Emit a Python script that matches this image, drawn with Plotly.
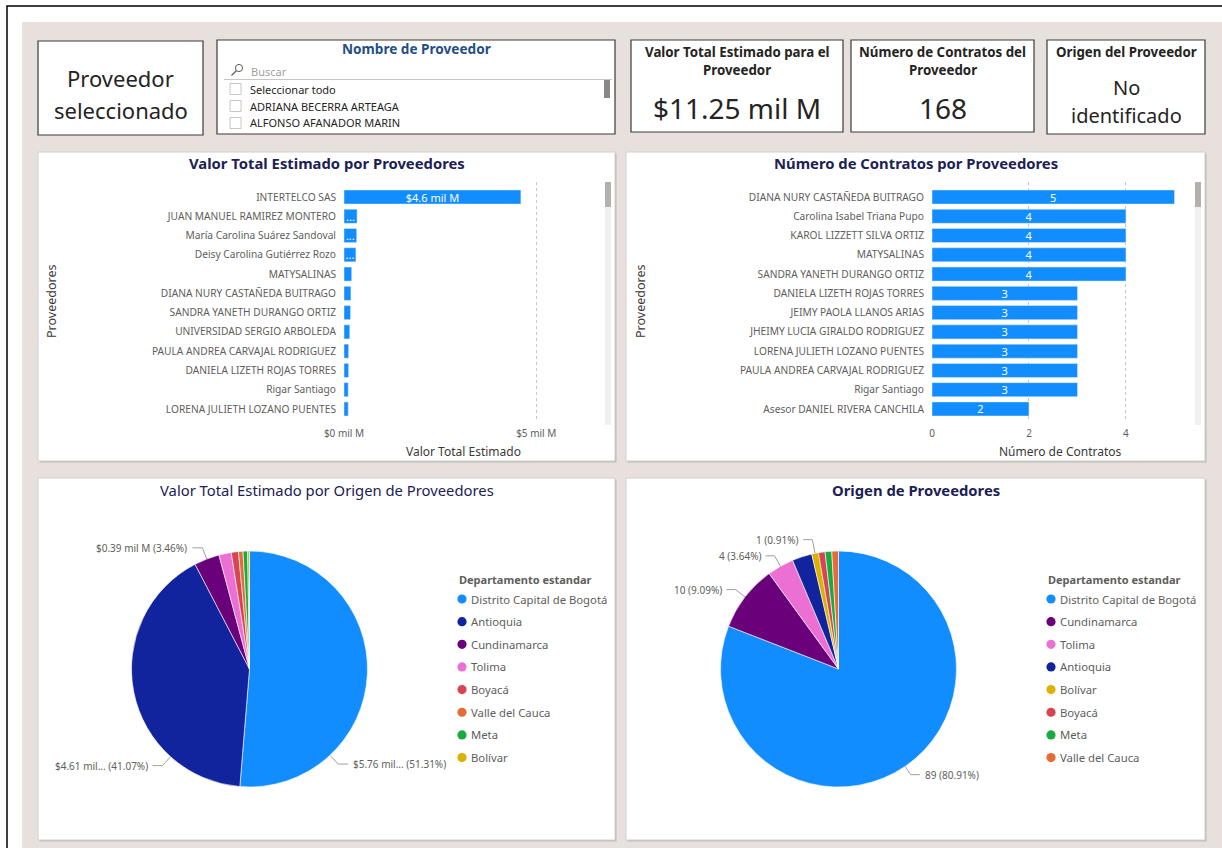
import math
import plotly.graph_objects as go

# ---------------------------------------------------------------- data
prov_valor = [
    "INTERTELCO SAS", "JUAN MANUEL RAMIREZ MONTERO", "María Carolina Suárez Sandoval",
    "Deisy Carolina Gutiérrez Rozo", "MATYSALINAS", "DIANA NURY CASTAÑEDA BUITRAGO",
    "SANDRA YANETH DURANGO ORTIZ", "UNIVERSIDAD SERGIO ARBOLEDA",
    "PAULA ANDREA CARVAJAL RODRIGUEZ", "DANIELA LIZETH ROJAS TORRES",
    "Rigar Santiago", "LORENA JULIETH LOZANO PUENTES",
]
valor_mil_m = [4.6, 0.34, 0.33, 0.31, 0.20, 0.18, 0.17, 0.15, 0.12, 0.12, 0.11, 0.11]

prov_contratos = [
    "DIANA NURY CASTAÑEDA BUITRAGO", "Carolina Isabel Triana Pupo", "KAROL LIZZETT SILVA ORTIZ",
    "MATYSALINAS", "SANDRA YANETH DURANGO ORTIZ", "DANIELA LIZETH ROJAS TORRES",
    "JEIMY PAOLA LLANOS ARIAS", "JHEIMY LUCIA GIRALDO RODRIGUEZ",
    "LORENA JULIETH LOZANO PUENTES", "PAULA ANDREA CARVAJAL RODRIGUEZ",
    "Rigar Santiago", "Asesor DANIEL RIVERA CANCHILA",
]
num_contratos = [5, 4, 4, 4, 4, 3, 3, 3, 3, 3, 3, 2]

depto_valor = ["Distrito Capital de Bogotá", "Antioquia", "Cundinamarca", "Tolima",
               "Boyacá", "Valle del Cauca", "Meta", "Bolívar"]
valor_depto = [5.7596, 4.6101, 0.3884, 0.19, 0.11, 0.07, 0.07, 0.028]

depto_origen = ["Distrito Capital de Bogotá", "Cundinamarca", "Tolima", "Antioquia",
                "Bolívar", "Boyacá", "Meta", "Valle del Cauca"]
origen_count = [89, 10, 4, 3, 1, 1, 1, 1]

kpi_valor = "$11.25 mil M"
kpi_contratos = "168"
kpi_origen = "No identificado"
slicer_items = ["Seleccionar todo", "ADRIANA BECERRA ARTEAGA", "ALFONSO AFANADOR MARIN"]

# ---------------------------------------------------------------- styles
W, H = 1222, 848
FONT = "Noto Sans"
BEIGE = "#E8E0DC"
BLUE = "#118DFF"
NAVY = "#1B2155"
GREY_TXT = "#605E5C"
DARK_TXT = "#252423"
DEPTO_COLORS = {
    "Distrito Capital de Bogotá": "#118DFF",
    "Antioquia": "#12239E",
    "Cundinamarca": "#6B007B",
    "Tolima": "#EC6FD3",
    "Boyacá": "#D64550",
    "Valle del Cauca": "#E66C37",
    "Meta": "#1AAB40",
    "Bolívar": "#D9B300",
}


def px(x):
    return x / W


def py(y):
    return 1 - y / H


shapes = []
annotations = []


def rect(x0, y0, x1, y1, fill, line=None, lw=1, layer="below"):
    shapes.append(dict(type="rect", xref="paper", yref="paper",
                       x0=px(x0), x1=px(x1), y0=py(y1), y1=py(y0),
                       fillcolor=fill, layer=layer,
                       line=dict(color=line or fill, width=lw if line else 0)))


def seg(pts, color, lw=1, layer="above"):
    path = "M " + " L ".join(f"{px(x)},{py(y)}" for x, y in pts)
    shapes.append(dict(type="path", xref="paper", yref="paper", path=path,
                       line=dict(color=color, width=lw), layer=layer))


def circle(cx, cy, r, fill, line=None, lw=0, layer="above"):
    shapes.append(dict(type="circle", xref="paper", yref="paper",
                       x0=px(cx - r), x1=px(cx + r), y0=py(cy + r), y1=py(cy - r),
                       fillcolor=fill, layer=layer,
                       line=dict(color=line or fill, width=lw)))


def text(x, y, s, size=12, color=DARK_TXT, bold=False, xanchor="center",
         yanchor="middle", angle=0):
    if bold:
        s = f"<b>{s}</b>"
    annotations.append(dict(xref="paper", yref="paper", x=px(x), y=py(y), text=s,
                            showarrow=False, xanchor=xanchor, yanchor=yanchor,
                            textangle=angle,
                            font=dict(family=FONT, size=size, color=color)))


# ---------------------------------------------------------------- page frame
seg([(7, 848), (7, 6), (1222, 6)], "#000000", 1.5, layer="below")
rect(22, 22, 1222, 848, BEIGE)

# ---------------------------------------------------------------- top cards
rect(38, 41, 203, 135, "white", "#3B3A39", 1.2)
text(120.5, 78, "Proveedor", 22)
text(120.5, 110, "seleccionado", 22)

# slicer
rect(217, 40, 615, 134, "white", "#3B3A39", 1.2)
text(417, 49, "Nombre de Proveedor", 13.6, "#1F4E89", bold=True)
circle(239, 68, 3.6, "rgba(0,0,0,0)", "#605E5C", 1)
seg([(236.5, 70.5), (231.5, 75.5)], "#605E5C", 1.2)
text(249, 71, "Buscar", 11, "#A19F9D", xanchor="left")
seg([(224, 79.5), (612, 79.5)], "#C8C6C4", 1)
rect(604, 80, 610, 98, "#8A8886", layer="above")
for i, item in enumerate(slicer_items):
    yy = 89 + 17 * i
    rect(230, yy - 5.5, 241, yy + 5.5, "white", "#C8C6C4", 1, layer="above")
    text(248, yy, item, 11, DARK_TXT, xanchor="left")

# KPI cards
CARD_T = 13.3
rect(631, 40, 843, 132, "white", "#3B3A39", 1.2)
text(737, 52, "Valor Total Estimado para el", CARD_T, DARK_TXT, bold=True)
text(737, 70, "Proveedor", CARD_T, DARK_TXT, bold=True)
text(737, 108, kpi_valor, 28, DARK_TXT)

rect(851, 40, 1034, 132, "white", "#3B3A39", 1.2)
text(942.5, 52, "Número de Contratos del", CARD_T, DARK_TXT, bold=True)
text(942.5, 70, "Proveedor", CARD_T, DARK_TXT, bold=True)
text(942.5, 108, kpi_contratos, 28, DARK_TXT)

rect(1047, 40, 1205, 134, "white", "#3B3A39", 1.2)
text(1126, 52, "Origen del Proveedor", CARD_T, DARK_TXT, bold=True)
origen_words = kpi_origen.split(" ", 1)
text(1126, 87, origen_words[0], 20)
text(1126, 115, origen_words[1], 20)

# ---------------------------------------------------------------- chart panels
for (x0, y0, x1, y1) in [(38, 152, 615, 461), (626, 152, 1205, 461),
                         (38, 478, 615, 840), (626, 478, 1205, 840)]:
    rect(x0 + 1.5, y0 + 1.5, x1 + 1.5, y1 + 1.5, "#BDBBB9")
    rect(x0, y0, x1, y1, "white", "#D2D0CE", 1)

TITLE = 14.8
text(327, 163, "Valor Total Estimado por Proveedores", TITLE, NAVY, bold=True)
text(916, 163, "Número de Contratos por Proveedores", TITLE, NAVY, bold=True)
text(327, 490, "Valor Total Estimado por Origen de Proveedores", TITLE, NAVY)
text(916, 490, "Origen de Proveedores", TITLE, NAVY, bold=True)

text(51, 302, "Proveedores", 12.5, "#3B3A39", angle=-90)
text(640, 302, "Proveedores", 12.5, "#3B3A39", angle=-90)
text(463, 451, "Valor Total Estimado", 12, "#3B3A39")
text(1060, 451, "Número de Contratos", 12, "#3B3A39")

# scrollbars of the bar charts
for sx in (605, 1195):
    rect(sx, 182, sx + 6, 425, "#F0F0F0", layer="above")
    rect(sx, 182, sx + 6, 207, "#B3B0AD", layer="above")

# ---------------------------------------------------------------- bar charts
fig = go.Figure()


def bar_label(v):
    if v >= 1:
        return f"${v:.1f} mil M"
    if v >= 0.3:
        return "..."
    return ""


fig.add_trace(go.Bar(
    y=prov_valor, x=valor_mil_m, orientation="h", xaxis="x", yaxis="y",
    marker=dict(color=BLUE), text=[bar_label(v) for v in valor_mil_m],
    textposition="inside", insidetextanchor="middle", textangle=0,
    textfont=dict(family=FONT, size=11, color="white"), showlegend=False,
))
fig.add_trace(go.Bar(
    y=prov_contratos, x=num_contratos, orientation="h", xaxis="x2", yaxis="y2",
    marker=dict(color=BLUE), text=[str(v) for v in num_contratos],
    textposition="inside", insidetextanchor="middle", textangle=0,
    textfont=dict(family=FONT, size=11, color="white"), showlegend=False,
))

ROW_TOP, ROW_STEP = 197, 19.27
grid_top, grid_bot = 182, 420
y_range = [(grid_bot - ROW_TOP) / ROW_STEP, (grid_top - ROW_TOP) / ROW_STEP]

xa_common = dict(showgrid=True, griddash="dot", gridcolor="#C8C6C4", gridwidth=1,
                 zeroline=False, showline=False, ticks="", ticklabelstandoff=6,
                 automargin=False,
                 tickfont=dict(family=FONT, size=10, color=GREY_TXT), fixedrange=True)
ya_common = dict(showgrid=False, zeroline=False, showline=False, ticks="",
                 ticklabelstandoff=7, type="category", range=y_range, automargin=False,
                 tickfont=dict(family=FONT, size=10.2, color=GREY_TXT), fixedrange=True)

# ---------------------------------------------------------------- pies
PIE1 = dict(cx=249.5, cy=669, r=118)
PIE2 = dict(cx=838.5, cy=669, r=118)

for vals, labs, p in [(valor_depto, depto_valor, PIE1), (origen_count, depto_origen, PIE2)]:
    fig.add_trace(go.Pie(
        values=vals, labels=labs, sort=False, direction="clockwise", rotation=0,
        textinfo="none", showlegend=False,
        marker=dict(colors=[DEPTO_COLORS[l] for l in labs], line=dict(color="white", width=0.6)),
        domain=dict(x=[px(p["cx"] - p["r"]), px(p["cx"] + p["r"])],
                    y=[py(p["cy"] + p["r"]), py(p["cy"] - p["r"])]),
    ))


def slice_mid_angle(vals, idx):
    tot = sum(vals)
    start = sum(vals[:idx]) / tot
    return (start + vals[idx] / tot / 2) * 360


def pie_label(p, angle, label, out=12, run=10):
    a = math.radians(angle)
    sx, sy = math.sin(a), -math.cos(a)
    x0, y0 = p["cx"] + p["r"] * sx, p["cy"] + p["r"] * sy
    x1, y1 = p["cx"] + (p["r"] + out) * sx, p["cy"] + (p["r"] + out) * sy
    side = 1 if sx >= 0 else -1
    x2 = x1 + side * run
    seg([(x0, y0), (x1, y1), (x2, y1)], "#A19F9D", 1)
    text(x2 + side * 3, y1, label, 10, GREY_TXT,
         xanchor="left" if side > 0 else "right")


# pie 1: value labels (large slices are shown truncated, leader angles set for spacing)
tot1 = sum(valor_depto)
pie1_labels = {"Distrito Capital de Bogotá": (137, True),
               "Antioquia": (222, True),
               "Cundinamarca": (None, False)}
for name, (ang, short) in pie1_labels.items():
    i = depto_valor.index(name)
    v = valor_depto[i]
    pct = v / tot1 * 100
    unit = "mil..." if short else "mil M"
    ang = slice_mid_angle(valor_depto, i) if ang is None else ang
    pie_label(PIE1, ang, f"${v:.2f} {unit} ({pct:.2f}%)")

# pie 2: count labels
tot2 = sum(origen_count)
pie2_labels = {"Distrito Capital de Bogotá": 10, "Cundinamarca": 12,
               "Tolima": 12, "Bolívar": 14}
for name, out in pie2_labels.items():
    i = depto_origen.index(name)
    n = origen_count[i]
    pie_label(PIE2, slice_mid_angle(origen_count, i), f"{n} ({n / tot2 * 100:.2f}%)",
              out=out, run=9)

# legends
for lx, labs in [(457, depto_valor), (1046, depto_origen)]:
    text(lx, 579, "Departamento estandar", 11, GREY_TXT, bold=True, xanchor="left")
    for i, l in enumerate(labs):
        yy = 599 + 22.65 * i
        circle(lx + 5, yy, 4.6, DEPTO_COLORS[l])
        text(lx + 11.5, yy, l, 11.3, GREY_TXT, xanchor="left")

# ---------------------------------------------------------------- layout
fig.update_layout(
    width=W, height=H, margin=dict(l=0, r=0, t=0, b=0, autoexpand=False),
    paper_bgcolor="white", plot_bgcolor="rgba(0,0,0,0)",
    bargap=0.27, hovermode=False, showlegend=False,
    uniformtext=dict(mode="show", minsize=11),
    font=dict(family=FONT),
    xaxis=dict(domain=[px(344), px(592)], range=[0, 6.45], anchor="y",
               tickvals=[0, 5], ticktext=["$0 mil M", "$5 mil M"], **xa_common),
    yaxis=dict(domain=[py(grid_bot), py(grid_top)], anchor="x", **ya_common),
    xaxis2=dict(domain=[px(932), px(1190)], range=[0, 5.32], anchor="y2",
                tickvals=[0, 2, 4], **xa_common),
    yaxis2=dict(domain=[py(grid_bot), py(grid_top)], anchor="x2", **ya_common),
    shapes=shapes, annotations=annotations,
)

fig.write_html("out.html", config={"displayModeBar": False})
